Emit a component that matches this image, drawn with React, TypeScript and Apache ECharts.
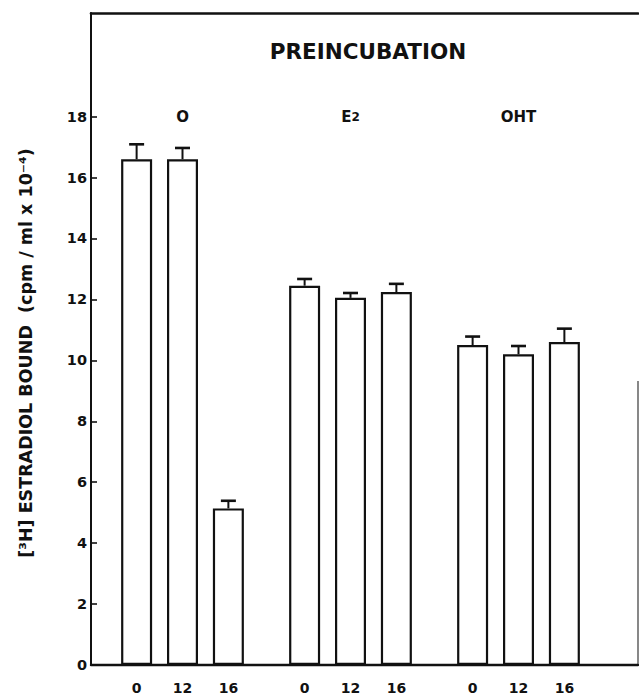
import React, { useEffect, useRef } from "react";
import * as echarts from "echarts";

const groups = ["O", "E2", "OHT"];
const timePoints = ["0", "12", "16"];
const meanAt0 = [16.6, 12.45, 10.5];
const meanAt12 = [16.6, 12.05, 10.2];
const meanAt16 = [5.14, 12.24, 10.6];
const errAt0 = [0.49, 0.22, 0.28];
const errAt12 = [0.37, 0.16, 0.27];
const errAt16 = [0.25, 0.27, 0.44];
const yTicks = [0, 2, 4, 6, 8, 10, 12, 14, 16, 18];
const yMax = 21.4;
const titleText = "PREINCUBATION";
const yName = "[³H] ESTRADIOL BOUND  (cpm / ml x 10⁻⁴)";

const FONT = "DejaVu Sans";
const INK = "#111";

export default function App() {
  const ref = useRef<HTMLDivElement>(null);
  useEffect(() => {
    if (!ref.current) return;
    const chart = echarts.init(ref.current, undefined, { renderer: "svg" });
    const means = [meanAt0, meanAt12, meanAt16];
    const errs = [errAt0, errAt12, errAt16];
    const BW = 31;
    const GAP = "48%";

    const barSeries = timePoints.map((t, k) => ({
      type: "bar",
      name: t,
      xAxisIndex: 1,
      yAxisIndex: 1,
      barWidth: BW,
      barGap: GAP,
      data: means[k],
      itemStyle: { color: "#fff", borderColor: INK, borderWidth: 2.2 },
      label: {
        show: true,
        position: "bottom",
        distance: 16,
        formatter: () => t,
        fontFamily: FONT,
        fontWeight: "bold",
        fontSize: 14,
        color: INK,
      },
    }));

    const errSeries = timePoints.map((t, k) => ({
      type: "custom",
      name: "err" + t,
      xAxisIndex: 1,
      yAxisIndex: 1,
      data: means[k].map((m, i) => [i, m, errs[k][i]]),
      renderItem: (params: any, api: any) => {
        const layout = api.barLayout({ barWidth: BW, barGap: GAP, count: 3 });
        const gi = api.value(0);
        const m = api.value(1);
        const e = api.value(2);
        const base = api.coord([gi, m]);
        const top = api.coord([gi, m + e]);
        const x = base[0] + layout[k].offsetCenter;
        return {
          type: "group",
          children: [
            {
              type: "line",
              shape: { x1: x, y1: base[1], x2: x, y2: top[1] },
              style: { stroke: INK, lineWidth: 2 },
            },
            {
              type: "line",
              shape: { x1: x - 7.5, y1: top[1], x2: x + 7.5, y2: top[1] },
              style: { stroke: INK, lineWidth: 2.6 },
            },
          ],
        };
      },
    }));

    chart.setOption({
      animation: false,
      backgroundColor: "#fff",
      title: {
        text: titleText,
        left: 363,
        top: 35,
        textAlign: "center",
        textStyle: { fontFamily: FONT, fontWeight: "bold", fontSize: 21.5, color: INK },
      },
      grid: [
        { left: 91, top: 13, right: 1, bottom: 34 },
        { left: 98.5, top: 13, width: 504, bottom: 34 },
      ],
      xAxis: [
        {
          type: "value",
          gridIndex: 0,
          position: "bottom",
          min: 0,
          max: 1,
          axisLine: { show: true, lineStyle: { color: INK, width: 2.4 } },
          axisTick: { show: false },
          axisLabel: { show: false },
          splitLine: { show: false },
        },
        {
          type: "category",
          gridIndex: 1,
          position: "top",
          offset: -119,
          data: groups,
          axisLine: { show: false },
          axisTick: { show: false },
          axisLabel: {
            margin: 8,
            formatter: (v: string) =>
              v === "E2" ? "{b|E}{s|2}" : "{b|" + v + "}",
            rich: {
              b: { fontFamily: FONT, fontWeight: "bold", fontSize: 15, color: INK },
              s: { fontFamily: FONT, fontWeight: "bold", fontSize: 12, color: INK },
            },
          },
        },
        {
          type: "value",
          gridIndex: 0,
          position: "top",
          min: 0,
          max: 1,
          axisLine: { show: true, lineStyle: { color: INK, width: 2.6 } },
          axisTick: { show: false },
          axisLabel: { show: false },
          splitLine: { show: false },
        },
      ],
      yAxis: [
        {
          type: "value",
          gridIndex: 0,
          min: 0,
          max: yMax,
          interval: 2,
          name: yName,
          nameLocation: "middle",
          nameRotate: 90,
          nameGap: 56,
          nameTextStyle: {
            fontFamily: FONT,
            fontWeight: "bold",
            fontSize: 17.5,
            color: INK,
            padding: [0, 28, 0, 0],
          },
          axisLine: { show: true, lineStyle: { color: INK, width: 2 } },
          axisTick: {
            show: true,
            inside: true,
            length: 6,
            customValues: yTicks,
            lineStyle: { color: INK, width: 1.6 },
          },
          axisLabel: {
            customValues: yTicks,
            margin: 4,
            fontFamily: FONT,
            fontWeight: "bold",
            fontSize: 14.5,
            color: INK,
            formatter: (v: number) => (v <= 18 ? String(v) : ""),
          },
          splitLine: { show: false },
        },
        {
          type: "value",
          gridIndex: 1,
          min: 0,
          max: yMax,
          show: false,
        },
      ],
      graphic: [
        {
          type: "line",
          shape: { x1: 638, y1: 381, x2: 638, y2: 665 },
          style: { stroke: "#555", lineWidth: 1.4 },
        },
      ],
      series: [...barSeries, ...errSeries],
    });
    return () => chart.dispose();
  }, []);
  return (
    <div
      ref={ref}
      style={{ position: "fixed", left: 0, top: 0, width: 639, height: 699 }}
    />
  );
}
